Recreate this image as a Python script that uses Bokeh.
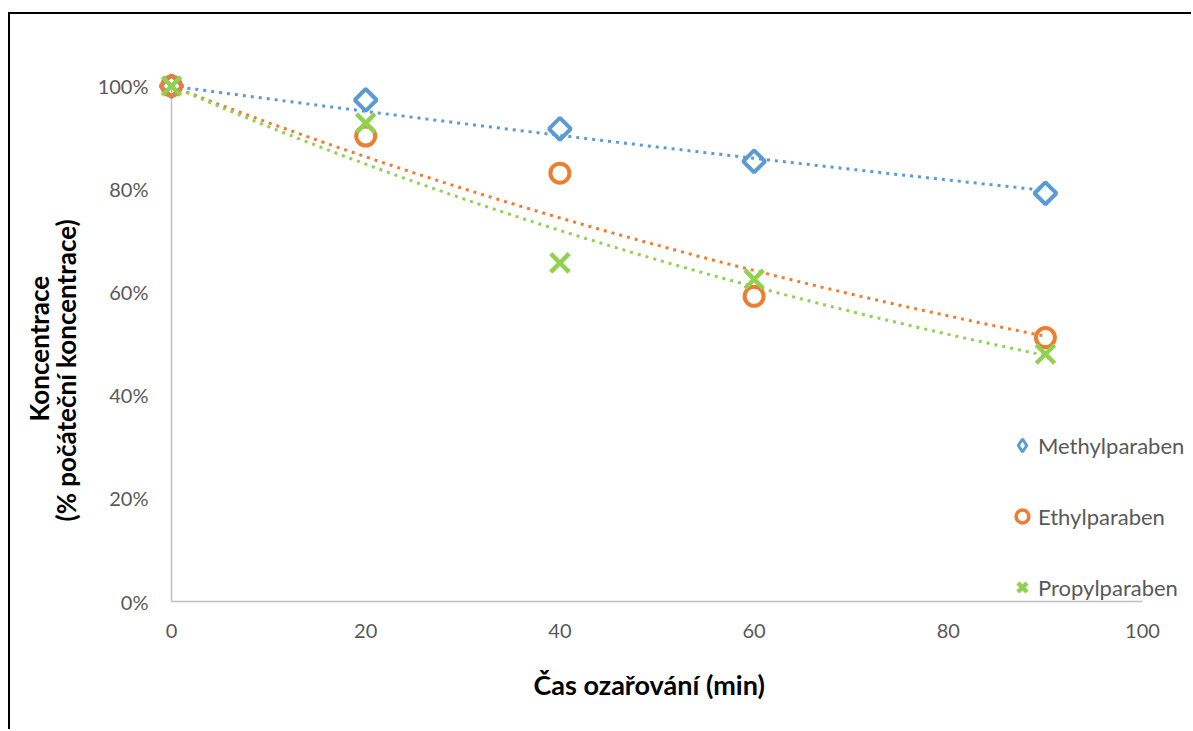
import numpy as np
from bokeh.plotting import figure
from bokeh.models import (Legend, LegendItem, Title, Range1d,
                          FixedTicker, PrintfTickFormatter)
from bokeh.embed import file_html
from bokeh.resources import INLINE

# ---- data ----
time_min = [0, 20, 40, 60, 90]
methylparaben = [100.0, 97.3, 91.7, 85.4, 79.2]
ethylparaben = [100.0, 90.3, 83.1, 59.2, 51.2]
propylparaben = [100.0, 92.8, 65.7, 62.5, 48.0]
series_names = ["Methylparaben", "Ethylparaben", "Propylparaben"]
x_ticks = [0, 20, 40, 60, 80, 100]
y_ticks = [0, 20, 40, 60, 80, 100]
x_title = "Čas ozařování (min)"
y_title_1 = "Koncentrace"
y_title_2 = "(% počáteční koncentrace)"

BLUE = "#5B9BD5"
ORANGE = "#ED7D31"
GREEN = "#92D050"
TICK_GRAY = "#595959"
AXIS_GRAY = "#BFBFBF"
FONT = "Lato"


def exp_trend(xv, yv):
    """Exponential trendline with intercept fixed at 100 %."""
    x = np.asarray(xv, float)
    ly = np.log(np.asarray(yv, float) / 100.0)
    b = np.sum(x * ly) / np.sum(x * x)
    xs = np.linspace(min(xv), max(xv), 181)
    return xs, 100.0 * np.exp(b * xs)


p = figure(width=1183, height=717, output_backend="svg", toolbar_location=None,
           x_range=Range1d(-2.163, 105.25), y_range=Range1d(0, 110),
           min_border_left=140, min_border_right=0, min_border_top=20,
           min_border_bottom=130, margin=(12, 0, 0, 8),
           styles={"border-left": "2px solid black", "border-top": "2px solid black"})
p.outline_line_color = None
p.grid.visible = False
p.background_fill_color = "white"
p.border_fill_color = "white"

# x axis
xa = p.xaxis[0]
xa.bounds = (x_ticks[0], x_ticks[-1])
xa.ticker = FixedTicker(ticks=x_ticks)
xa.axis_line_color = AXIS_GRAY
xa.axis_line_width = 1.5
xa.major_tick_line_color = None
xa.major_tick_out = 0
xa.major_tick_in = 0
xa.minor_tick_line_color = None
xa.major_label_text_font = FONT
xa.major_label_text_font_size = "20px"
xa.major_label_text_color = TICK_GRAY
xa.major_label_standoff = 22

# y axis
ya = p.yaxis[0]
ya.ticker = FixedTicker(ticks=y_ticks)
ya.formatter = PrintfTickFormatter(format="%d%%")
ya.axis_line_color = None
ya.major_tick_line_color = None
ya.major_tick_out = 0
ya.major_tick_in = 0
ya.minor_tick_line_color = None
ya.major_label_text_font = FONT
ya.major_label_text_font_size = "20px"
ya.major_label_text_color = TICK_GRAY
ya.major_label_standoff = 2

# vertical axis line at x = 0 between first and last y tick
p.segment(x0=[x_ticks[0]], y0=[y_ticks[0]], x1=[x_ticks[0]], y1=[y_ticks[-1]],
          line_color=AXIS_GRAY, line_width=1.5)

# trendlines
for vals, col in [(methylparaben, BLUE), (ethylparaben, ORANGE), (propylparaben, GREEN)]:
    xs, ys = exp_trend(time_min, vals)
    p.line(xs, ys, line_color=col, line_width=3, line_dash="3 5")

# markers
p.scatter(time_min, methylparaben, marker="square", angle=np.pi / 4, size=15.5,
          fill_color=None, line_color=BLUE, line_width=4)
p.scatter(time_min, ethylparaben, marker="circle", size=19,
          fill_color=None, line_color=ORANGE, line_width=4)
p.scatter(time_min, propylparaben, marker="x", size=26,
          line_color=GREEN, line_width=4.5)

# legend-only glyphs (single NaN point: drawn only in the legend)
nan = [float("nan")]
lg_m = p.scatter(nan, nan, marker="diamond", fill_color="white", line_color=BLUE, line_width=3)
lg_e = p.scatter(nan, nan, marker="circle", fill_color="white", line_color=ORANGE, line_width=3.5)
lg_p = p.scatter(nan, nan, marker="x", line_color=GREEN, line_width=4.5)

legend = Legend(items=[LegendItem(label=series_names[0], renderers=[lg_m]),
                       LegendItem(label=series_names[1], renderers=[lg_e]),
                       LegendItem(label=series_names[2], renderers=[lg_p])],
                location=(856, -5), orientation="vertical",
                glyph_width=32, glyph_height=38, label_height=38,
                label_standoff=0, spacing=33, padding=0, margin=0,
                border_line_color=None, background_fill_alpha=0,
                label_text_font=FONT, label_text_font_size="22px",
                label_text_color=TICK_GRAY)
p.add_layout(legend, "center")

# x axis title
p.add_layout(Title(text=x_title, align="left", offset=383, standoff=53,
                   vertical_align="middle", text_font=FONT, text_font_style="bold",
                   text_font_size="27px", text_color="black"), "below")

# y axis title (two lines), stacked outward from the axis
p.add_layout(Title(text=" ", text_font_size="1px", standoff=9), "left")
p.add_layout(Title(text=y_title_2, align="left", offset=80, standoff=0,
                   vertical_align="middle", text_font=FONT, text_font_style="bold",
                   text_font_size="26px", text_color="black"), "left")
p.add_layout(Title(text=y_title_1, align="left", offset=180, standoff=-14,
                   vertical_align="middle", text_font=FONT, text_font_style="bold",
                   text_font_size="26px", text_color="black"), "left")

open("out.html", "w").write(file_html(p, INLINE))
